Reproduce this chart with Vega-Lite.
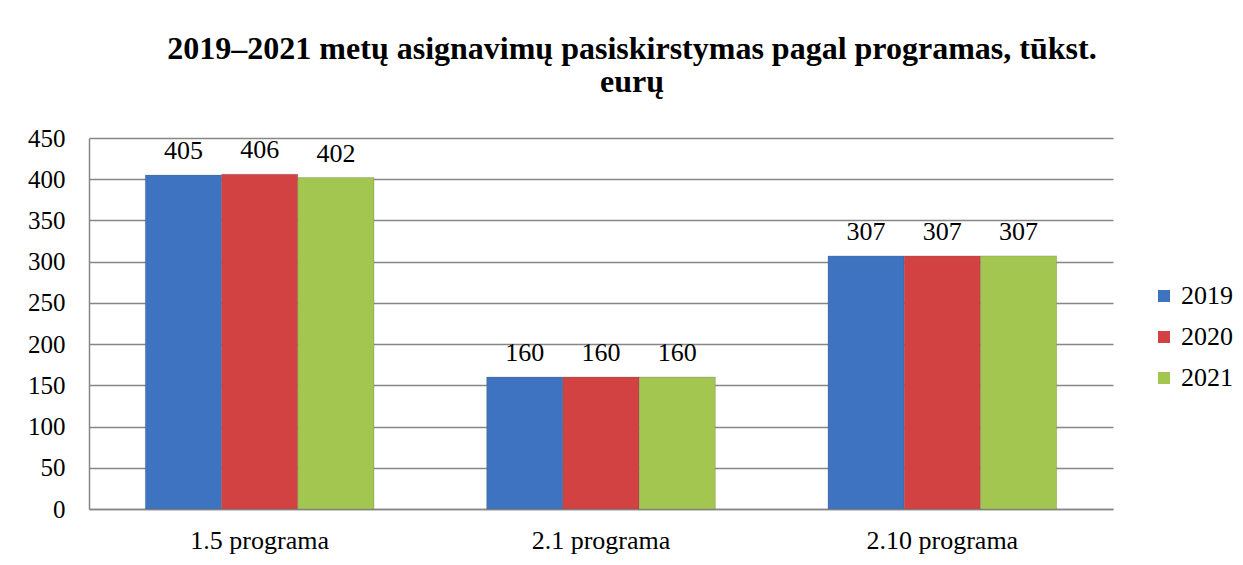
{
  "$schema": "https://vega.github.io/schema/vega-lite/v6.json",
  "width": 1024,
  "height": 371,
  "autosize": {"type": "none"},
  "padding": {"left": 89, "top": 138, "right": 130, "bottom": 56},
  "background": "white",
  "title": {
    "text": ["2019–2021 metų asignavimų pasiskirstymas pagal programas, tūkst.", "eurų"],
    "font": "Liberation Serif",
    "fontSize": 32,
    "fontWeight": "bold",
    "color": "#000000",
    "anchor": "middle",
    "frame": "group",
    "dx": 31,
    "offset": 27,
    "lineHeight": 33
  },
  "data": {
    "values": [
      {"programa": "1.5 programa", "metai": "2019", "suma": 405},
      {"programa": "1.5 programa", "metai": "2020", "suma": 406},
      {"programa": "1.5 programa", "metai": "2021", "suma": 402},
      {"programa": "2.1 programa", "metai": "2019", "suma": 160},
      {"programa": "2.1 programa", "metai": "2020", "suma": 160},
      {"programa": "2.1 programa", "metai": "2021", "suma": 160},
      {"programa": "2.10 programa", "metai": "2019", "suma": 307},
      {"programa": "2.10 programa", "metai": "2020", "suma": 307},
      {"programa": "2.10 programa", "metai": "2021", "suma": 307}
    ]
  },
  "encoding": {
    "x": {
      "field": "programa",
      "type": "nominal",
      "sort": null,
      "title": null,
      "scale": {"paddingInner": 0.33, "paddingOuter": 0.165},
      "axis": {
        "labelAngle": 0,
        "labelFont": "Liberation Serif",
        "labelFontSize": 26,
        "labelColor": "#000000",
        "labelPadding": 18,
        "ticks": false,
        "domainColor": "#868686",
        "domainWidth": 1.5,
        "grid": false
      }
    },
    "xOffset": {"field": "metai", "type": "nominal", "scale": {"paddingInner": 0, "paddingOuter": 0}},
    "y": {
      "field": "suma",
      "type": "quantitative",
      "title": null,
      "scale": {"domain": [0, 450], "nice": false},
      "axis": {
        "values": [0, 50, 100, 150, 200, 250, 300, 350, 400, 450],
        "labelFont": "Liberation Serif",
        "labelFontSize": 25,
        "labelColor": "#000000",
        "labelPadding": 24,
        "ticks": false,
        "domainColor": "#868686",
        "domainWidth": 1.5,
        "gridColor": "#868686",
        "gridWidth": 1.5
      }
    }
  },
  "layer": [
    {
      "mark": {"type": "bar", "stroke": "#5a5a5a", "strokeWidth": 0.5, "strokeOpacity": 0.5},
      "encoding": {
        "color": {
          "field": "metai",
          "type": "nominal",
          "scale": {"domain": ["2019", "2020", "2021"], "range": ["#3D73C0", "#D24242", "#A2C650"]},
          "legend": {
            "title": null,
            "orient": "none",
            "legendX": 1062,
            "legendY": 145,
            "symbolType": "square",
            "symbolSize": 144,
            "symbolStrokeWidth": 0,
            "labelFont": "Liberation Serif",
            "labelFontSize": 26,
            "labelColor": "#000000",
            "labelOffset": 4,
            "rowPadding": 15
          }
        }
      }
    },
    {
      "mark": {"type": "text", "baseline": "alphabetic", "dy": -16, "font": "Liberation Serif", "fontSize": 26, "color": "#000000"},
      "encoding": {"text": {"field": "suma", "type": "quantitative"}}
    }
  ],
  "config": {"font": "Liberation Serif", "view": {"stroke": null}}
}
